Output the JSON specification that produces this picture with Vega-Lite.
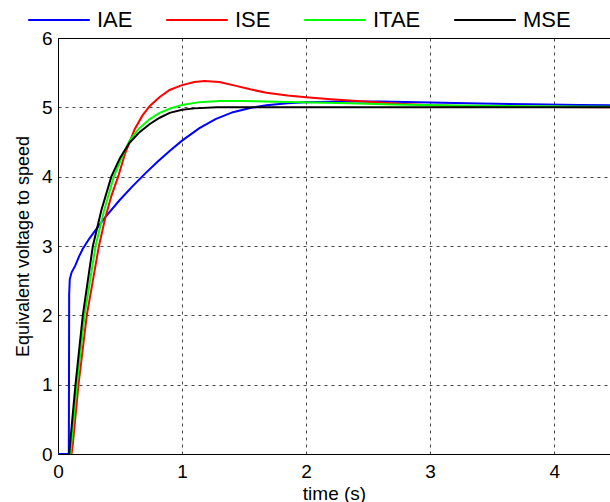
{
  "$schema": "https://vega.github.io/schema/vega-lite/v6.json",
  "width": 552,
  "height": 416,
  "autosize": {"type": "none"},
  "padding": {"left": 58, "top": 38, "right": 0, "bottom": 48},
  "background": "white",
  "config": {
    "font": "Liberation Sans",
    "view": {"stroke": null}
  },
  "data": {
    "values": [
      {"t": 0, "v": 0, "s": "IAE"},
      {"t": 0.087, "v": 0, "s": "IAE"},
      {"t": 0.088, "v": 0.6, "s": "IAE"},
      {"t": 0.09, "v": 2.3, "s": "IAE"},
      {"t": 0.095, "v": 2.52, "s": "IAE"},
      {"t": 0.11, "v": 2.62, "s": "IAE"},
      {"t": 0.14, "v": 2.72, "s": "IAE"},
      {"t": 0.17, "v": 2.85, "s": "IAE"},
      {"t": 0.2, "v": 2.96, "s": "IAE"},
      {"t": 0.25, "v": 3.1, "s": "IAE"},
      {"t": 0.295, "v": 3.21, "s": "IAE"},
      {"t": 0.383, "v": 3.42, "s": "IAE"},
      {"t": 0.496, "v": 3.66, "s": "IAE"},
      {"t": 0.6, "v": 3.86, "s": "IAE"},
      {"t": 0.7, "v": 4.04, "s": "IAE"},
      {"t": 0.8, "v": 4.21, "s": "IAE"},
      {"t": 0.9, "v": 4.37, "s": "IAE"},
      {"t": 1.0, "v": 4.52, "s": "IAE"},
      {"t": 1.14, "v": 4.7, "s": "IAE"},
      {"t": 1.27, "v": 4.83, "s": "IAE"},
      {"t": 1.41, "v": 4.93, "s": "IAE"},
      {"t": 1.55, "v": 4.99, "s": "IAE"},
      {"t": 1.68, "v": 5.03, "s": "IAE"},
      {"t": 1.85, "v": 5.06, "s": "IAE"},
      {"t": 2.0, "v": 5.075, "s": "IAE"},
      {"t": 2.3, "v": 5.085, "s": "IAE"},
      {"t": 2.6, "v": 5.085, "s": "IAE"},
      {"t": 3.0, "v": 5.07, "s": "IAE"},
      {"t": 3.4, "v": 5.055, "s": "IAE"},
      {"t": 3.8, "v": 5.045, "s": "IAE"},
      {"t": 4.2, "v": 5.035, "s": "IAE"},
      {"t": 4.45, "v": 5.03, "s": "IAE"},

      {"t": 0.109, "v": 0, "s": "ISE"},
      {"t": 0.12, "v": 0.15, "s": "ISE"},
      {"t": 0.165, "v": 1.0, "s": "ISE"},
      {"t": 0.232, "v": 2.0, "s": "ISE"},
      {"t": 0.33, "v": 3.0, "s": "ISE"},
      {"t": 0.383, "v": 3.42, "s": "ISE"},
      {"t": 0.43, "v": 3.72, "s": "ISE"},
      {"t": 0.485, "v": 4.0, "s": "ISE"},
      {"t": 0.54, "v": 4.33, "s": "ISE"},
      {"t": 0.617, "v": 4.68, "s": "ISE"},
      {"t": 0.68, "v": 4.88, "s": "ISE"},
      {"t": 0.74, "v": 5.02, "s": "ISE"},
      {"t": 0.82, "v": 5.15, "s": "ISE"},
      {"t": 0.9, "v": 5.25, "s": "ISE"},
      {"t": 1.0, "v": 5.32, "s": "ISE"},
      {"t": 1.1, "v": 5.365, "s": "ISE"},
      {"t": 1.18, "v": 5.38, "s": "ISE"},
      {"t": 1.3, "v": 5.365, "s": "ISE"},
      {"t": 1.41, "v": 5.32, "s": "ISE"},
      {"t": 1.55, "v": 5.26, "s": "ISE"},
      {"t": 1.68, "v": 5.21, "s": "ISE"},
      {"t": 1.85, "v": 5.17, "s": "ISE"},
      {"t": 2.0, "v": 5.145, "s": "ISE"},
      {"t": 2.2, "v": 5.115, "s": "ISE"},
      {"t": 2.5, "v": 5.08, "s": "ISE"},
      {"t": 2.75, "v": 5.05, "s": "ISE"},
      {"t": 3.0, "v": 5.03, "s": "ISE"},
      {"t": 3.5, "v": 5.01, "s": "ISE"},
      {"t": 4.0, "v": 5.005, "s": "ISE"},
      {"t": 4.45, "v": 5.0, "s": "ISE"},

      {"t": 0.1, "v": 0, "s": "ITAE"},
      {"t": 0.11, "v": 0.2, "s": "ITAE"},
      {"t": 0.152, "v": 1.0, "s": "ITAE"},
      {"t": 0.214, "v": 2.0, "s": "ITAE"},
      {"t": 0.303, "v": 3.0, "s": "ITAE"},
      {"t": 0.37, "v": 3.5, "s": "ITAE"},
      {"t": 0.45, "v": 4.0, "s": "ITAE"},
      {"t": 0.52, "v": 4.3, "s": "ITAE"},
      {"t": 0.577, "v": 4.52, "s": "ITAE"},
      {"t": 0.65, "v": 4.69, "s": "ITAE"},
      {"t": 0.74, "v": 4.83, "s": "ITAE"},
      {"t": 0.82, "v": 4.92, "s": "ITAE"},
      {"t": 0.9, "v": 4.98, "s": "ITAE"},
      {"t": 1.0, "v": 5.035, "s": "ITAE"},
      {"t": 1.14, "v": 5.075, "s": "ITAE"},
      {"t": 1.3, "v": 5.09, "s": "ITAE"},
      {"t": 1.5, "v": 5.09, "s": "ITAE"},
      {"t": 1.95, "v": 5.075, "s": "ITAE"},
      {"t": 2.35, "v": 5.06, "s": "ITAE"},
      {"t": 2.7, "v": 5.04, "s": "ITAE"},
      {"t": 3.2, "v": 5.025, "s": "ITAE"},
      {"t": 3.8, "v": 5.015, "s": "ITAE"},
      {"t": 4.45, "v": 5.01, "s": "ITAE"},

      {"t": 0.09, "v": 0, "s": "MSE"},
      {"t": 0.1, "v": 0.2, "s": "MSE"},
      {"t": 0.141, "v": 1.0, "s": "MSE"},
      {"t": 0.2, "v": 2.0, "s": "MSE"},
      {"t": 0.281, "v": 3.0, "s": "MSE"},
      {"t": 0.35, "v": 3.52, "s": "MSE"},
      {"t": 0.43, "v": 4.0, "s": "MSE"},
      {"t": 0.5, "v": 4.27, "s": "MSE"},
      {"t": 0.577, "v": 4.49, "s": "MSE"},
      {"t": 0.65, "v": 4.63, "s": "MSE"},
      {"t": 0.74, "v": 4.76, "s": "MSE"},
      {"t": 0.82, "v": 4.85, "s": "MSE"},
      {"t": 0.9, "v": 4.92, "s": "MSE"},
      {"t": 1.0, "v": 4.965, "s": "MSE"},
      {"t": 1.1, "v": 4.985, "s": "MSE"},
      {"t": 1.28, "v": 5.0, "s": "MSE"},
      {"t": 2.0, "v": 5.002, "s": "MSE"},
      {"t": 4.45, "v": 5.0, "s": "MSE"}
    ]
  },
  "layer": [
    {
      "mark": {"type": "line", "strokeWidth": 2, "clip": true},
      "encoding": {
        "x": {
          "field": "t", "type": "quantitative",
          "scale": {"domain": [0, 4.45], "nice": false, "zero": false},
          "axis": {
            "title": "time (s)", "titleFontSize": 19, "titleFontWeight": "normal", "titleColor": "black",
            "titleBaseline": "alphabetic", "titleY": 45,
            "values": [0, 1, 2, 3, 4], "format": "d", "labelFontSize": 19, "labelColor": "black", "labelFlush": false, "labelPadding": 8,
            "ticks": false, "domainColor": "black", "domainWidth": 1,
            "grid": true, "gridColor": "#333", "gridDash": [3, 4], "gridOpacity": 0.9
          }
        },
        "y": {
          "field": "v", "type": "quantitative",
          "scale": {"domain": [0, 6], "nice": false},
          "axis": {
            "title": "Equivalent voltage to speed", "titleFontSize": 18, "titleFontWeight": "normal", "titleColor": "black", "titlePadding": 9,
            "values": [0, 1, 2, 3, 4, 5, 6], "format": "d", "labelFontSize": 19, "labelColor": "black", "labelPadding": 6,
            "ticks": false, "domainColor": "black", "domainWidth": 1,
            "grid": true, "gridColor": "#333", "gridDash": [3, 4], "gridOpacity": 0.9
          }
        },
        "color": {
          "field": "s", "type": "nominal",
          "scale": {"domain": ["IAE", "ISE", "ITAE", "MSE"], "range": ["#0000ff", "#ff0000", "#00ff00", "#000000"]},
          "legend": {
            "title": null, "orient": "none", "direction": "horizontal",
            "legendX": -31, "legendY": -50,
            "symbolType": "stroke", "symbolSize": 3800, "symbolStrokeWidth": 2,
            "labelFontSize": 22, "labelColor": "black", "labelOffset": 6, "columnPadding": 29
          }
        }
      }
    },
    {
      "mark": {"type": "line", "opacity": 0},
      "encoding": {
        "x": {
          "field": "t", "type": "quantitative",
          "axis": {"orient": "top", "title": null, "labels": false, "ticks": false, "grid": false, "domainColor": "black", "domainWidth": 1}
        },
        "y": {"field": "v", "type": "quantitative"}
      }
    }
  ],
  "resolve": {"axis": {"x": "independent"}}
}
